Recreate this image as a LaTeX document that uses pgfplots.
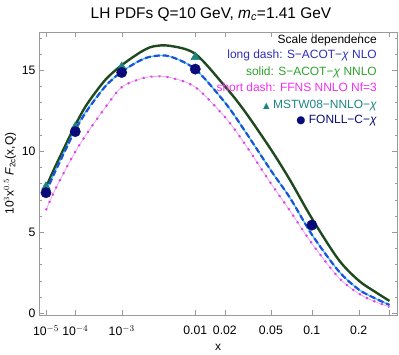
\documentclass[border=0pt]{standalone}
\usepackage{fontspec}
\setmainfont{Liberation Sans}
\newfontfamily\dejavu{DejaVu Sans}
\usepackage{pgfplots}
\pgfplotsset{compat=1.18}
\definecolor{nnlocol}{HTML}{1F4A1F}
\definecolor{nlocol}{HTML}{1E50D8}
\definecolor{nlobase}{HTML}{3CC8F5}
\definecolor{ffnscol}{HTML}{E040E8}
\definecolor{ffnsbase}{HTML}{E8A8F0}
\definecolor{mstwcol}{HTML}{1C8580}
\definecolor{fonllcol}{HTML}{0A0A78}
\definecolor{txtnlo}{HTML}{2E2EB8}
\definecolor{txtnnlo}{HTML}{2FA22F}
\definecolor{txtffns}{HTML}{F030F0}
\definecolor{framecol}{HTML}{9A9A9A}

\begin{document}
\begin{tikzpicture}
% fix page to the reference proportions (frame at origin)
\path[use as bounding box] (-39bp,-40bp) rectangle (360bp,315bp);
\begin{axis}[
    at={(0,0)}, anchor=south west,
    scale only axis,
    width=358bp, height=283bp,
    % horizontal axis runs in x^0.2; limits and ticks are given in that unit
    x filter/.expression={x^0.2},
    xmin=0.086, xmax=0.8012,
    ymin=-0.12, ymax=17.35,
    xtick={0.1,0.158489,0.251189,0.398107,0.457305,0.549280,0.630957,0.724780,0.786003},
    xticklabels={10$^{-5}$,10$^{-4}$,10$^{-3}$,0.01,0.02,0.05,0.1,0.2,{}},
    ytick={0,5,10,15},
    minor ytick={1,2,3,4,6,7,8,9,11,12,13,14,16,17},
    tick align=inside,
    major tick length=5bp, minor tick length=2.5bp,
    tick style={framecol},
    axis line style={framecol},
    /pgf/number format/assume math mode=true,
    tick label style={font=\fontsize{12.3}{14}\selectfont},
    xticklabel style={yshift=-7bp},
    xlabel={x},
    ylabel={10$^3$x$^{0.5}$ \textit{F}\textsubscript{2c}(x,Q)},
    label style={font=\fontsize{12}{14}\selectfont},
    xlabel style={yshift=-2bp},
    ylabel style={yshift=-1bp},
    title={LH PDFs Q=10 GeV, \textit{m}\textsubscript{\textit{c}}=1.41 GeV},
    title style={font=\fontsize{15.5}{18}\selectfont, xshift=-7bp, yshift=1bp},
]
% solid: S-ACOT-chi NNLO
\addplot[nnlocol, line width=2.4bp, smooth, tension=0.5] coordinates {
    (1e-5,7.75) (2e-5,8.8) (5e-5,10.3) (1e-4,11.6) (2e-4,12.9) (5e-4,14.4)
    (1e-3,15.3) (2e-3,16.1) (3e-3,16.45) (5e-3,16.5) (0.01,16.0) (0.02,14.0)
    (0.03,12.5) (0.05,10.1) (0.07,8.2) (0.1,5.85) (0.15,3.3) (0.2,2.0)
    (0.25,1.3) (0.3,0.75)
};
% long dash: S-ACOT-chi NLO (light line below the dashes)
\addplot[nlobase, line width=1.3bp, smooth, tension=0.5] coordinates {
    (1e-5,7.5) (2e-5,8.55) (5e-5,10.05) (1e-4,11.35) (2e-4,12.55) (5e-4,14.0)
    (1e-3,14.9) (2e-3,15.6) (3e-3,15.85) (5e-3,15.85) (0.01,15.05) (0.02,13.0)
    (0.03,11.3) (0.05,8.8) (0.07,7.1) (0.1,4.85) (0.15,2.6) (0.2,1.45)
    (0.25,0.9) (0.3,0.5)
};
\addplot[nlocol, line width=2.2bp, dash pattern=on 6bp off 3bp, smooth, tension=0.5] coordinates {
    (1e-5,7.45) (2e-5,8.5) (5e-5,10.0) (1e-4,11.3) (2e-4,12.5) (5e-4,14.0)
    (1e-3,14.9) (2e-3,15.6) (3e-3,15.85) (5e-3,15.85) (0.01,15.05) (0.02,13.0)
    (0.03,11.3) (0.05,8.8) (0.07,7.1) (0.1,4.85) (0.15,2.6) (0.2,1.45)
    (0.25,0.9) (0.3,0.5)
};
% short dash: FFNS NNLO Nf=3
\addplot[ffnsbase, line width=0.8bp, smooth, tension=0.5] coordinates {
    (1e-5,6.35) (2e-5,7.4) (5e-5,8.8) (1e-4,9.95) (2e-4,11.1) (5e-4,12.7)
    (1e-3,13.95) (2e-3,14.45) (3e-3,14.6) (5e-3,14.55) (0.01,13.95) (0.02,12.1)
    (0.03,10.5) (0.05,8.0) (0.07,6.3) (0.1,4.3) (0.15,2.2) (0.2,1.2)
    (0.25,0.7) (0.3,0.38)
};
\addplot[ffnscol, line width=2bp, dash pattern=on 2bp off 6bp, smooth, tension=0.5] coordinates {
    (1e-5,6.35) (2e-5,7.4) (5e-5,8.8) (1e-4,9.95) (2e-4,11.1) (5e-4,12.7)
    (1e-3,13.95) (2e-3,14.45) (3e-3,14.6) (5e-3,14.55) (0.01,13.95) (0.02,12.1)
    (0.03,10.5) (0.05,8.0) (0.07,6.3) (0.1,4.3) (0.15,2.2) (0.2,1.2)
    (0.25,0.7) (0.3,0.38)
};
% MSTW08-NNLO-chi
\addplot[only marks, mark=triangle*, mark size=5bp, color=mstwcol] coordinates {
    (1e-5,7.8) (1e-4,11.5) (1e-3,15.2) (0.01,15.8)
};
% FONLL-C-chi
\addplot[only marks, mark=*, mark size=5.2bp, color=fonllcol] coordinates {
    (1e-5,7.43) (1e-4,11.2) (1e-3,14.85) (0.01,15.06) (0.1,5.43)
};
% legend text
\begin{scope}[every node/.style={anchor=east, inner sep=0pt, text height=0.7em, text depth=0.2em,
    font=\fontsize{12}{14}\selectfont}]
\node at (axis description cs:0.944,0.969) {Scale dependence};
\node[text=txtnlo] at (axis description cs:0.944,0.915) {long dash: S−ACOT−\textit{χ} NLO};
\node[text=txtnnlo] at (axis description cs:0.944,0.856) {solid: S−ACOT−\textit{χ} NNLO};
\node[text=txtffns] at (axis description cs:0.944,0.7975) {short dash: FFNS NNLO Nf=3};
\node[text=mstwcol] at (axis description cs:0.944,0.7385) {{\dejavu\fontsize{8.5}{9}\selectfont ▲} MSTW08−NNLO−\textit{χ}};
\node[text=fonllcol] at (axis description cs:0.944,0.6866) {{\dejavu\fontsize{10.5}{11}\selectfont ●} FONLL−C−\textit{χ}};
\end{scope}
\end{axis}
\end{tikzpicture}
\end{document}
